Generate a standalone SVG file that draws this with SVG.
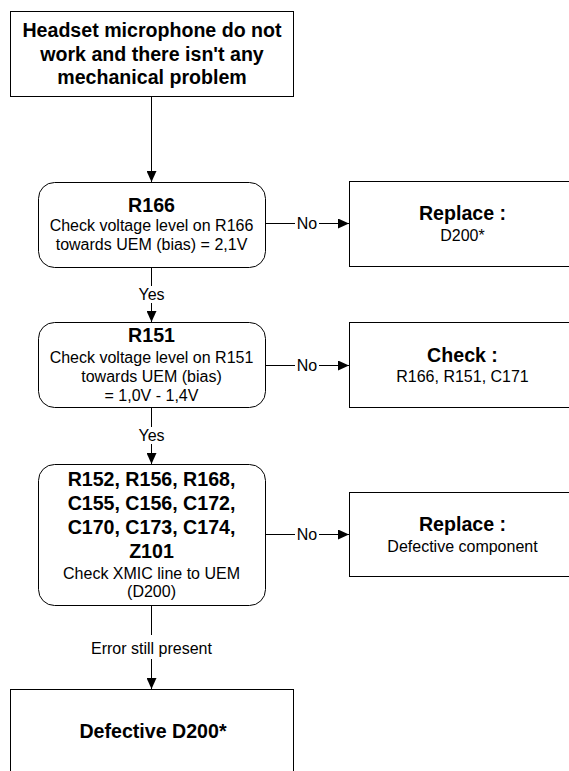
<svg xmlns="http://www.w3.org/2000/svg" width="569" height="771" viewBox="0 0 569 771">
<style>
.box{fill:#fff;stroke:#000;stroke-width:1}
.ln{fill:none;stroke:#000;stroke-width:1}
text{font-family:"Liberation Sans",Arial,sans-serif;fill:#000;text-anchor:middle}
.b{font-weight:bold;font-size:19.6px}
.r{font-size:16px}
</style>
<defs>
<marker id="ah" markerUnits="userSpaceOnUse" markerWidth="11" markerHeight="10" refX="11" refY="5" orient="auto">
<path d="M0,0 L11,5 L0,10 z" fill="#000"/>
</marker>
</defs>
<rect width="569" height="771" fill="#fff"/>
<g id="connectors">
<line class="ln" x1="151.5" y1="96.5" x2="151.5" y2="182" marker-end="url(#ah)"/>
<line class="ln" x1="265.5" y1="223.5" x2="295" y2="223.5"/>
<line class="ln" x1="319" y1="223.5" x2="349" y2="223.5" marker-end="url(#ah)"/>
<text class="r" x="307" y="229">No</text>
<line class="ln" x1="151.5" y1="267.5" x2="151.5" y2="286"/>
<line class="ln" x1="151.5" y1="303" x2="151.5" y2="322" marker-end="url(#ah)"/>
<text class="r" x="151.5" y="300">Yes</text>
<line class="ln" x1="265.5" y1="365.5" x2="295" y2="365.5"/>
<line class="ln" x1="319" y1="365.5" x2="349" y2="365.5" marker-end="url(#ah)"/>
<text class="r" x="307" y="371">No</text>
<line class="ln" x1="151.5" y1="407.5" x2="151.5" y2="427"/>
<line class="ln" x1="151.5" y1="444" x2="151.5" y2="464" marker-end="url(#ah)"/>
<text class="r" x="151.5" y="441">Yes</text>
<line class="ln" x1="265.5" y1="534.5" x2="295" y2="534.5"/>
<line class="ln" x1="319" y1="534.5" x2="349" y2="534.5" marker-end="url(#ah)"/>
<text class="r" x="307" y="540">No</text>
<line class="ln" x1="151.5" y1="605.5" x2="151.5" y2="635"/>
<line class="ln" x1="151.5" y1="659" x2="151.5" y2="689" marker-end="url(#ah)"/>
<text class="r" x="151.5" y="653.5">Error still present</text>
</g>
<g id="start">
<rect class="box" x="10.5" y="11.5" width="283" height="85"/>
<text class="b" x="152" y="37">Headset microphone do not</text>
<text class="b" x="152" y="61">work and there isn't any</text>
<text class="b" x="152" y="84">mechanical problem</text>
</g>
<g id="r166">
<rect class="box" x="38.5" y="182.5" width="227" height="85" rx="16"/>
<text class="b" x="151.5" y="212">R166</text>
<text class="r" x="151.5" y="231">Check voltage level on R166</text>
<text class="r" x="151.5" y="250">towards UEM (bias) = 2,1V</text>
</g>
<g id="replace1">
<rect class="box" x="349.5" y="181.5" width="227" height="85"/>
<text class="b" x="462.5" y="220">Replace :</text>
<text class="r" x="462.5" y="241">D200*</text>
</g>
<g id="r151">
<rect class="box" x="38.5" y="322.5" width="227" height="85" rx="16"/>
<text class="b" x="151.5" y="342">R151</text>
<text class="r" x="151.5" y="362.5">Check voltage level on R151</text>
<text class="r" x="151.5" y="381.5">towards UEM (bias)</text>
<text class="r" x="151.5" y="400.5">= 1,0V - 1,4V</text>
</g>
<g id="check">
<rect class="box" x="349.5" y="322.5" width="227" height="85"/>
<text class="b" x="462.5" y="362">Check :</text>
<text class="r" x="462.5" y="382">R166, R151, C171</text>
</g>
<g id="xmic">
<rect class="box" x="38.5" y="464.5" width="227" height="141" rx="16"/>
<text class="b" x="151.5" y="486">R152, R156, R168,</text>
<text class="b" x="151.5" y="510">C155, C156, C172,</text>
<text class="b" x="151.5" y="534">C170, C173, C174,</text>
<text class="b" x="151.5" y="558">Z101</text>
<text class="r" x="151.5" y="579">Check XMIC line to UEM</text>
<text class="r" x="151.5" y="597">(D200)</text>
</g>
<g id="replace2">
<rect class="box" x="349.5" y="492.5" width="227" height="84"/>
<text class="b" x="462.5" y="531">Replace :</text>
<text class="r" x="462.5" y="552">Defective component</text>
</g>
<g id="defective">
<rect class="box" x="10.5" y="689.5" width="283" height="85"/>
<text class="b" x="153" y="738">Defective D200*</text>
</g>
</svg>
